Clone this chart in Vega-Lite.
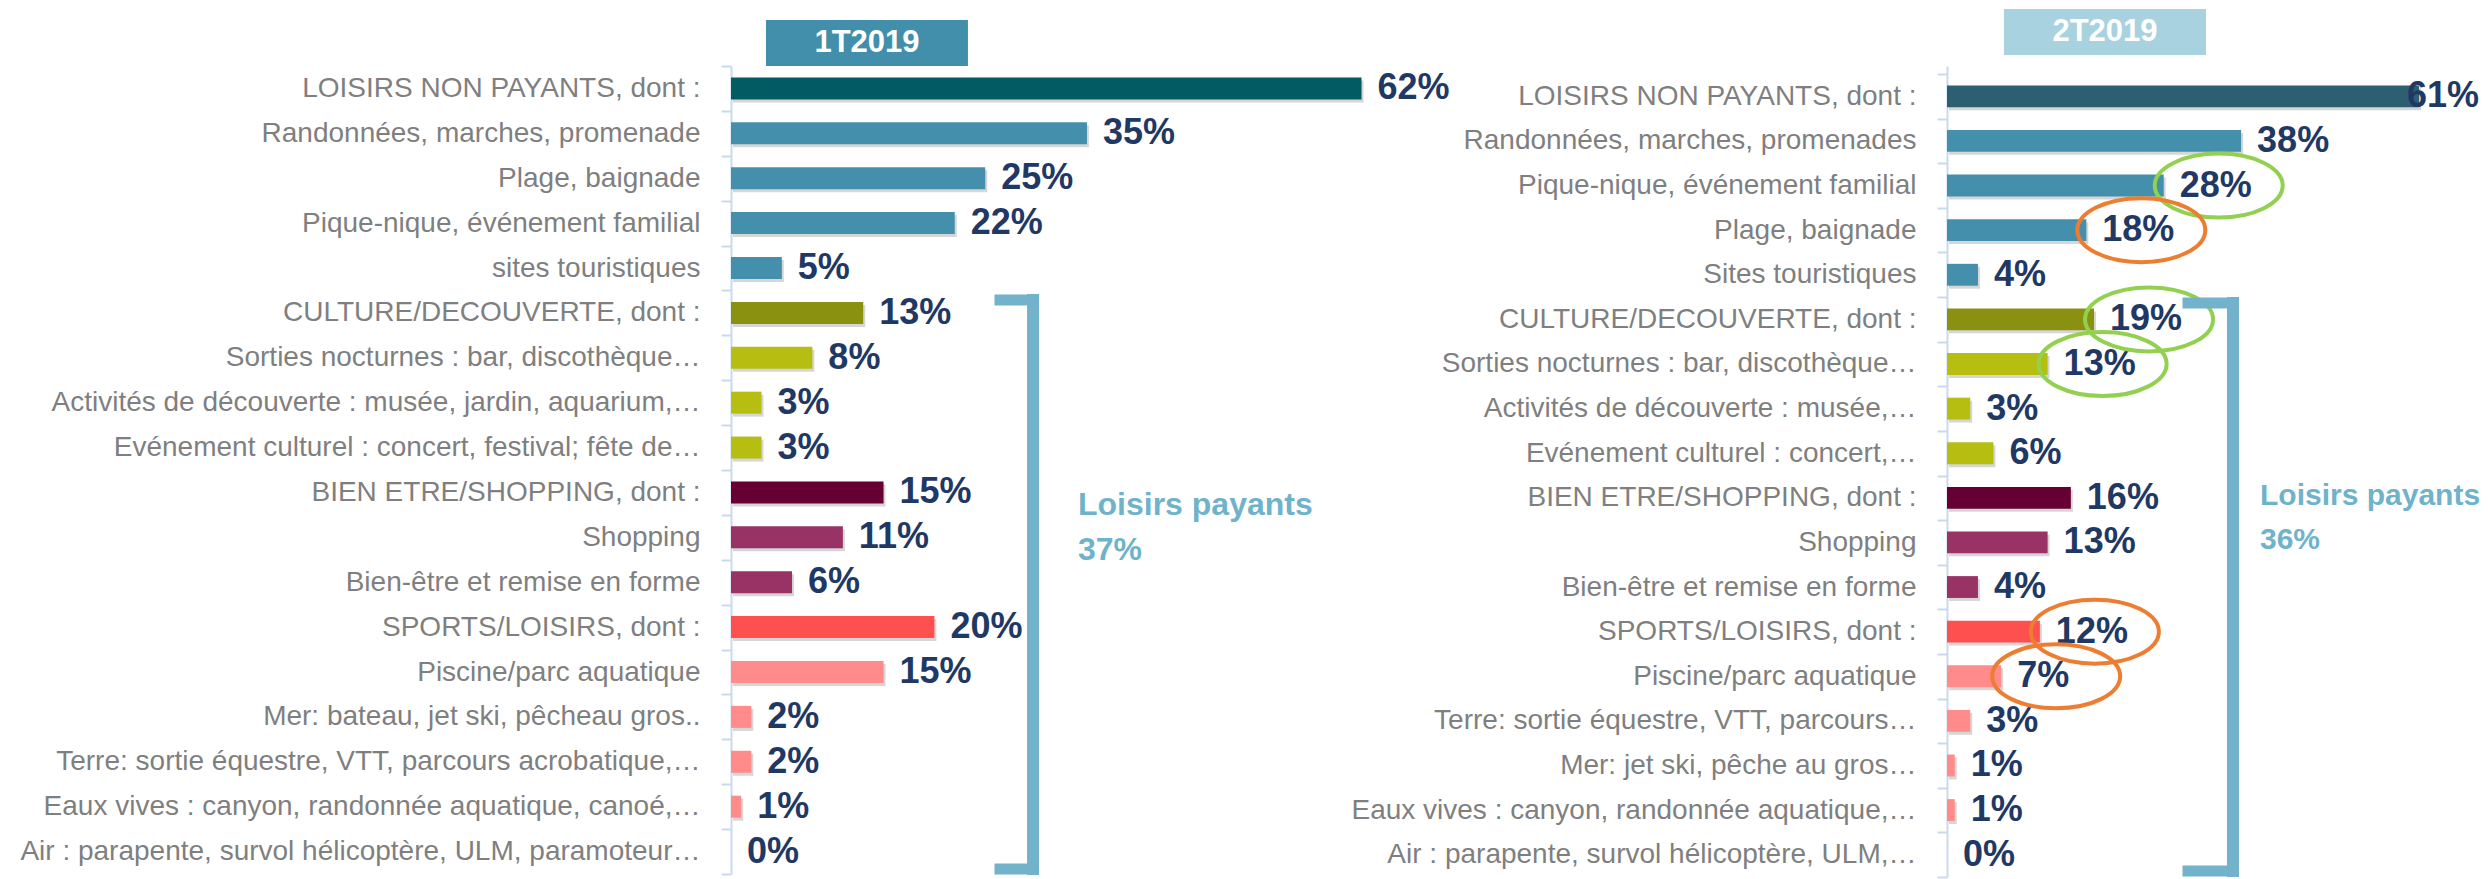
{
  "$schema": "https://vega.github.io/schema/vega-lite/v6.json",
  "autosize": {"type": "pad"},
  "padding": {"left": 19, "top": 9, "right": 0, "bottom": 0},
  "background": "white",
  "bounds": "flush",
  "spacing": 0,
  "config": {
    "view": {"stroke": null},
    "font": "Liberation Sans",
    "axisY": {
      "title": null, "labelFontSize": 28, "labelColor": "#7f7f7f", "labelFont": "Liberation Sans",
      "labelLimit": 1000, "labelPadding": 21, "domainColor": "#c9d9ef", "domainWidth": 2,
      "tickColor": "#c9d9ef", "tickWidth": 2, "tickSize": 10, "tickBand": "extent", "grid": false
    }
  },
  "datasets": {
    "t1": [
      {"label": "LOISIRS NON PAYANTS, dont :", "v": 0.62, "famille": "Loisirs non payants"},
      {"label": "Randonnées, marches, promenade", "v": 0.35, "famille": "Loisirs non payants (détail)"},
      {"label": "Plage, baignade", "v": 0.25, "famille": "Loisirs non payants (détail)"},
      {"label": "Pique-nique, événement familial", "v": 0.22, "famille": "Loisirs non payants (détail)"},
      {"label": "sites touristiques", "v": 0.05, "famille": "Loisirs non payants (détail)"},
      {"label": "CULTURE/DECOUVERTE, dont :", "v": 0.13, "famille": "Culture/Découverte"},
      {"label": "Sorties nocturnes : bar, discothèque…", "v": 0.08, "famille": "Culture/Découverte (détail)"},
      {"label": "Activités de découverte : musée, jardin, aquarium,…", "v": 0.03, "famille": "Culture/Découverte (détail)"},
      {"label": "Evénement culturel : concert, festival; fête de…", "v": 0.03, "famille": "Culture/Découverte (détail)"},
      {"label": "BIEN ETRE/SHOPPING, dont :", "v": 0.15, "famille": "Bien-être/Shopping"},
      {"label": "Shopping", "v": 0.11, "famille": "Bien-être/Shopping (détail)"},
      {"label": "Bien-être et remise en forme", "v": 0.06, "famille": "Bien-être/Shopping (détail)"},
      {"label": "SPORTS/LOISIRS, dont :", "v": 0.20, "famille": "Sports/Loisirs"},
      {"label": "Piscine/parc aquatique", "v": 0.15, "famille": "Sports/Loisirs (détail)"},
      {"label": "Mer: bateau, jet ski, pêcheau gros..", "v": 0.02, "famille": "Sports/Loisirs (détail)"},
      {"label": "Terre: sortie équestre, VTT, parcours acrobatique,…", "v": 0.02, "famille": "Sports/Loisirs (détail)"},
      {"label": "Eaux vives : canyon, randonnée aquatique, canoé,…", "v": 0.01, "famille": "Sports/Loisirs (détail)"},
      {"label": "Air : parapente, survol hélicoptère, ULM, paramoteur…", "v": 0.0, "famille": "Sports/Loisirs (détail)"}
    ],
    "t2": [
      {"label": "LOISIRS NON PAYANTS, dont :", "v": 0.61, "famille": "Loisirs non payants"},
      {"label": "Randonnées, marches, promenades", "v": 0.38, "famille": "Loisirs non payants (détail)"},
      {"label": "Pique-nique, événement familial", "v": 0.28, "famille": "Loisirs non payants (détail)", "evolution": "hausse"},
      {"label": "Plage, baignade", "v": 0.18, "famille": "Loisirs non payants (détail)", "evolution": "baisse"},
      {"label": "Sites touristiques", "v": 0.04, "famille": "Loisirs non payants (détail)"},
      {"label": "CULTURE/DECOUVERTE, dont :", "v": 0.19, "famille": "Culture/Découverte", "evolution": "hausse"},
      {"label": "Sorties nocturnes : bar, discothèque…", "v": 0.13, "famille": "Culture/Découverte (détail)", "evolution": "hausse"},
      {"label": "Activités de découverte : musée,…", "v": 0.03, "famille": "Culture/Découverte (détail)"},
      {"label": "Evénement culturel : concert,…", "v": 0.06, "famille": "Culture/Découverte (détail)"},
      {"label": "BIEN ETRE/SHOPPING, dont :", "v": 0.16, "famille": "Bien-être/Shopping"},
      {"label": "Shopping", "v": 0.13, "famille": "Bien-être/Shopping (détail)"},
      {"label": "Bien-être et remise en forme", "v": 0.04, "famille": "Bien-être/Shopping (détail)"},
      {"label": "SPORTS/LOISIRS, dont :", "v": 0.12, "famille": "Sports/Loisirs", "evolution": "baisse"},
      {"label": "Piscine/parc aquatique", "v": 0.07, "famille": "Sports/Loisirs (détail)", "evolution": "baisse"},
      {"label": "Terre: sortie équestre, VTT, parcours…", "v": 0.03, "famille": "Sports/Loisirs (détail)"},
      {"label": "Mer: jet ski, pêche au gros…", "v": 0.01, "famille": "Sports/Loisirs (détail)"},
      {"label": "Eaux vives : canyon, randonnée aquatique,…", "v": 0.01, "famille": "Sports/Loisirs (détail)"},
      {"label": "Air : parapente, survol hélicoptère, ULM,…", "v": 0.0, "famille": "Sports/Loisirs (détail)"}
    ]
  },
  "resolve": {"scale": {"color": "independent", "x": "independent", "y": "independent"}},
  "hconcat": [
    {
      "width": 1216,
      "height": 808,
      "layer": [
        {
          "data": {"name": "t1"},
          "transform": [{"filter": "datum.v > 0"}],
          "mark": {"type": "bar", "color": "#000000", "opacity": 0.16, "height": {"band": 0.49}, "xOffset": 2, "yOffset": 3},
          "encoding": {
            "x": {"field": "v", "type": "quantitative", "axis": null, "scale": {"domain": [0, 1.1957], "nice": false}},
            "y": {"field": "label", "type": "nominal", "sort": null}
          }
        },
        {
          "data": {"name": "t1"},
          "mark": {"type": "bar", "height": {"band": 0.49}},
          "encoding": {
            "x": {"field": "v", "type": "quantitative", "axis": null, "scale": {"domain": [0, 1.1957], "nice": false}},
            "y": {"field": "label", "type": "nominal", "sort": null,
                  "scale": {"domain": ["LOISIRS NON PAYANTS, dont :", "Randonnées, marches, promenade", "Plage, baignade", "Pique-nique, événement familial", "sites touristiques", "CULTURE/DECOUVERTE, dont :", "Sorties nocturnes : bar, discothèque…", "Activités de découverte : musée, jardin, aquarium,…", "Evénement culturel : concert, festival; fête de…", "BIEN ETRE/SHOPPING, dont :", "Shopping", "Bien-être et remise en forme", "SPORTS/LOISIRS, dont :", "Piscine/parc aquatique", "Mer: bateau, jet ski, pêcheau gros..", "Terre: sortie équestre, VTT, parcours acrobatique,…", "Eaux vives : canyon, randonnée aquatique, canoé,…", "Air : parapente, survol hélicoptère, ULM, paramoteur…"],
                            "paddingInner": 0, "paddingOuter": 0, "round": false}},
            "color": {"field": "famille", "type": "nominal", "legend": null,
                      "scale": {"domain": ["Loisirs non payants", "Loisirs non payants (détail)", "Culture/Découverte", "Culture/Découverte (détail)", "Bien-être/Shopping", "Bien-être/Shopping (détail)", "Sports/Loisirs", "Sports/Loisirs (détail)"],
                                "range": ["#025a62", "#448fac", "#8a9010", "#b6be12", "#660033", "#993366", "#ff5050", "#ff8b8b"]}}
          }
        },
        {
          "data": {"name": "t1"},
          "mark": {"type": "text", "align": "left", "baseline": "middle", "dx": 16, "fontSize": 36, "fontWeight": "bold", "color": "#1f3864"},
          "encoding": {
            "x": {"field": "v", "type": "quantitative", "axis": null},
            "y": {"field": "label", "type": "nominal", "sort": null},
            "text": {"field": "v", "type": "quantitative", "format": ".0%"}
          }
        },
        {
          "data": {"values": [{}]},
          "mark": {"type": "bar", "color": "#428fab", "height": 46, "yOffset": -45.4},
          "encoding": {
            "x": {"datum": 0.0344, "type": "quantitative", "axis": null},
            "x2": {"datum": 0.233},
            "y": {"datum": "LOISIRS NON PAYANTS, dont :", "type": "nominal"}
          }
        },
        {
          "data": {"values": [{}]},
          "mark": {"type": "text", "text": "1T2019", "color": "white", "fontSize": 31, "fontWeight": "bold", "align": "center", "baseline": "middle", "yOffset": -45.4},
          "encoding": {
            "x": {"datum": 0.1337, "type": "quantitative", "axis": null},
            "y": {"datum": "LOISIRS NON PAYANTS, dont :", "type": "nominal"}
          }
        },
        {
          "data": {"values": [{}]},
          "mark": {"type": "rule", "color": "#72b2cb", "strokeWidth": 12, "strokeCap": "square", "yOffset": -13, "y2Offset": 17.4},
          "encoding": {
            "x": {"datum": 0.297, "type": "quantitative", "axis": null},
            "y": {"datum": "CULTURE/DECOUVERTE, dont :", "type": "nominal"},
            "y2": {"datum": "Air : parapente, survol hélicoptère, ULM, paramoteur…"}
          }
        },
        {
          "data": {"values": [{}]},
          "mark": {"type": "rule", "color": "#72b2cb", "strokeWidth": 11, "strokeCap": "square", "yOffset": -13},
          "encoding": {
            "x": {"datum": 0.2645, "type": "quantitative", "axis": null},
            "x2": {"datum": 0.297},
            "y": {"datum": "CULTURE/DECOUVERTE, dont :", "type": "nominal"}
          }
        },
        {
          "data": {"values": [{}]},
          "mark": {"type": "rule", "color": "#72b2cb", "strokeWidth": 11, "strokeCap": "square", "yOffset": 17.4},
          "encoding": {
            "x": {"datum": 0.2645, "type": "quantitative", "axis": null},
            "x2": {"datum": 0.297},
            "y": {"datum": "Air : parapente, survol hélicoptère, ULM, paramoteur…", "type": "nominal"}
          }
        },
        {
          "data": {"values": [{}]},
          "mark": {"type": "text", "text": ["Loisirs payants", "37%"], "lineHeight": 45, "color": "#6fb3cb", "fontSize": 32, "fontWeight": "bold", "align": "left", "baseline": "alphabetic", "yOffset": 22.5},
          "encoding": {
            "x": {"datum": 0.3412, "type": "quantitative", "axis": null},
            "y": {"datum": "BIEN ETRE/SHOPPING, dont :", "type": "nominal"}
          }
        }
      ]
    },
    {
      "width": 542,
      "height": 811,
      "layer": [
        {
          "data": {"name": "t2"},
          "transform": [{"filter": "datum.v > 0"}],
          "mark": {"type": "bar", "color": "#000000", "opacity": 0.16, "height": {"band": 0.49}, "xOffset": 2, "yOffset": 3},
          "encoding": {
            "x": {"field": "v", "type": "quantitative", "axis": null, "scale": {"domain": [0, 0.7003], "nice": false}},
            "y": {"field": "label", "type": "nominal", "sort": null}
          }
        },
        {
          "data": {"name": "t2"},
          "mark": {"type": "bar", "height": {"band": 0.49}},
          "encoding": {
            "x": {"field": "v", "type": "quantitative", "axis": null, "scale": {"domain": [0, 0.7003], "nice": false}},
            "y": {"field": "label", "type": "nominal", "sort": null,
                  "scale": {"domain": ["LOISIRS NON PAYANTS, dont :", "Randonnées, marches, promenades", "Pique-nique, événement familial", "Plage, baignade", "Sites touristiques", "CULTURE/DECOUVERTE, dont :", "Sorties nocturnes : bar, discothèque…", "Activités de découverte : musée,…", "Evénement culturel : concert,…", "BIEN ETRE/SHOPPING, dont :", "Shopping", "Bien-être et remise en forme", "SPORTS/LOISIRS, dont :", "Piscine/parc aquatique", "Terre: sortie équestre, VTT, parcours…", "Mer: jet ski, pêche au gros…", "Eaux vives : canyon, randonnée aquatique,…", "Air : parapente, survol hélicoptère, ULM,…"],
                            "paddingInner": 0, "paddingOuter": 0.09, "align": 1, "round": false}},
            "color": {"field": "famille", "type": "nominal", "legend": null,
                      "scale": {"domain": ["Loisirs non payants", "Loisirs non payants (détail)", "Culture/Découverte", "Culture/Découverte (détail)", "Bien-être/Shopping", "Bien-être/Shopping (détail)", "Sports/Loisirs", "Sports/Loisirs (détail)"],
                                "range": ["#2c5f72", "#448fac", "#8a9010", "#b6be12", "#660033", "#993366", "#ff5050", "#ff8b8b"]}}
          }
        },
        {
          "data": {"name": "t2"},
          "transform": [{"filter": "datum.v < 0.5"}],
          "mark": {"type": "text", "align": "left", "baseline": "middle", "dx": 16, "fontSize": 36, "fontWeight": "bold", "color": "#1f3864"},
          "encoding": {
            "x": {"field": "v", "type": "quantitative", "axis": null},
            "y": {"field": "label", "type": "nominal", "sort": null},
            "text": {"field": "v", "type": "quantitative", "format": ".0%"}
          }
        },
        {
          "data": {"name": "t2"},
          "transform": [{"filter": "datum.v >= 0.5"}],
          "mark": {"type": "text", "align": "right", "baseline": "middle", "dx": 60, "fontSize": 36, "fontWeight": "bold", "color": "#1f3864"},
          "encoding": {
            "x": {"field": "v", "type": "quantitative", "axis": null},
            "y": {"field": "label", "type": "nominal", "sort": null},
            "text": {"field": "v", "type": "quantitative", "format": ".0%"}
          }
        },
        {
          "data": {"name": "t2"},
          "transform": [{"filter": {"field": "evolution", "oneOf": ["hausse", "baisse"]}}],
          "mark": {"type": "point", "shape": "M-1,0A1,0.5,0,1,1,1,0A1,0.5,0,1,1,-1,0Z", "size": 16384, "filled": false, "strokeWidth": 4, "opacity": 1, "xOffset": 55},
          "encoding": {
            "x": {"field": "v", "type": "quantitative", "axis": null},
            "y": {"field": "label", "type": "nominal", "sort": null},
            "stroke": {"field": "evolution", "type": "nominal", "legend": null, "scale": {"domain": ["hausse", "baisse"], "range": ["#92d050", "#ed7d31"]}}
          }
        },
        {
          "data": {"values": [{}]},
          "mark": {"type": "bar", "color": "#a9d2e0", "height": 46, "yOffset": -64.3},
          "encoding": {
            "x": {"datum": 0.0736, "type": "quantitative", "axis": null},
            "x2": {"datum": 0.3346},
            "y": {"datum": "LOISIRS NON PAYANTS, dont :", "type": "nominal"}
          }
        },
        {
          "data": {"values": [{}]},
          "mark": {"type": "text", "text": "2T2019", "color": "white", "fontSize": 31, "fontWeight": "bold", "align": "center", "baseline": "middle", "yOffset": -64.3},
          "encoding": {
            "x": {"datum": 0.2041, "type": "quantitative", "axis": null},
            "y": {"datum": "LOISIRS NON PAYANTS, dont :", "type": "nominal"}
          }
        },
        {
          "data": {"values": [{}]},
          "mark": {"type": "rule", "color": "#72b2cb", "strokeWidth": 12, "strokeCap": "square", "yOffset": -16.4, "y2Offset": 16.3},
          "encoding": {
            "x": {"datum": 0.3695, "type": "quantitative", "axis": null},
            "y": {"datum": "CULTURE/DECOUVERTE, dont :", "type": "nominal"},
            "y2": {"datum": "Air : parapente, survol hélicoptère, ULM,…"}
          }
        },
        {
          "data": {"values": [{}]},
          "mark": {"type": "rule", "color": "#72b2cb", "strokeWidth": 11, "strokeCap": "square", "yOffset": -16.4},
          "encoding": {
            "x": {"datum": 0.3114, "type": "quantitative", "axis": null},
            "x2": {"datum": 0.3695},
            "y": {"datum": "CULTURE/DECOUVERTE, dont :", "type": "nominal"}
          }
        },
        {
          "data": {"values": [{}]},
          "mark": {"type": "rule", "color": "#72b2cb", "strokeWidth": 11, "strokeCap": "square", "yOffset": 16.3},
          "encoding": {
            "x": {"datum": 0.3114, "type": "quantitative", "axis": null},
            "x2": {"datum": 0.3695},
            "y": {"datum": "Air : parapente, survol hélicoptère, ULM,…", "type": "nominal"}
          }
        },
        {
          "data": {"values": [{}]},
          "mark": {"type": "text", "text": ["Loisirs payants", "36%"], "lineHeight": 44, "color": "#6fb3cb", "fontSize": 30, "fontWeight": "bold", "align": "left", "baseline": "alphabetic", "yOffset": 7.2},
          "encoding": {
            "x": {"datum": 0.4044, "type": "quantitative", "axis": null},
            "y": {"datum": "BIEN ETRE/SHOPPING, dont :", "type": "nominal"}
          }
        }
      ]
    }
  ]
}
